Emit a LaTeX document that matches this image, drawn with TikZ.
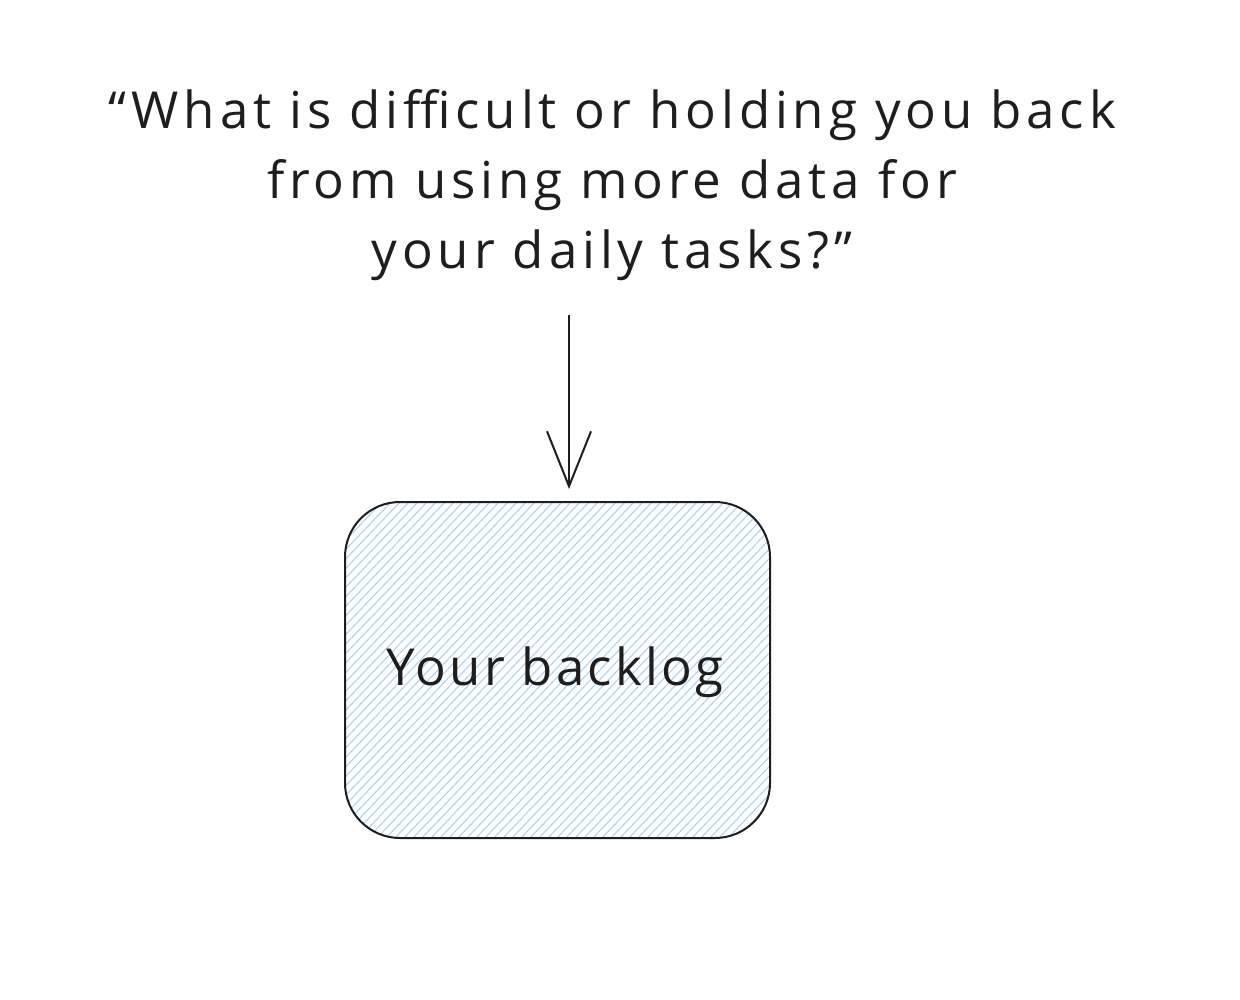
\documentclass[tikz,border=0pt]{standalone}
\usepackage{fontspec}
\setmainfont{Open Sans}
\newfontfamily\wideq[LetterSpace=9.5]{Open Sans}
\newfontfamily\wideb[LetterSpace=6.5]{Open Sans}
\usetikzlibrary{arrows.meta}
\definecolor{hatch}{HTML}{A5D0F5}
\definecolor{ink}{HTML}{1E1E1E}
\tikzset{
  question/.style={align=center, font=\wideq\fontsize{51}{70}\selectfont, text=ink, inner sep=0pt},
  boxlabel/.style={font=\wideb\fontsize{51}{56}\selectfont, text=ink, inner sep=0pt},
  conn/.style={draw=ink, line width=2pt, -{Straight Barb[length=55pt,width=44pt,line width=2pt]}},
  frame/.style={draw=ink, line width=2pt, rounded corners=55pt},
}
\begin{document}
\begin{tikzpicture}[x=1pt,y=-1pt]
\useasboundingbox (0,0) rectangle (1240,1000);
\fill[white] (0,0) rectangle (1240,1000);
% hatched fill
\begin{scope}
  \clip[rounded corners=55pt] (345,502) rectangle (770,838);
  \foreach \i in {-400,-391,...,460} {
    \draw[hatch, line width=1pt] (345+\i,838) -- ++(400,-420);
  }
\end{scope}
\path[frame] (345,502) rectangle (770,838);
\node[boxlabel] (box) at (555,672) {Your backlog};
\coordinate (boxtop) at (569,489);
\node[question] (q) at (612,185) {“What is difficult or holding you back\\from using more data for\\your daily tasks?”};
\coordinate (qbot) at (569,315);
\draw[conn] (qbot) -- (boxtop);
\end{tikzpicture}
\end{document}
